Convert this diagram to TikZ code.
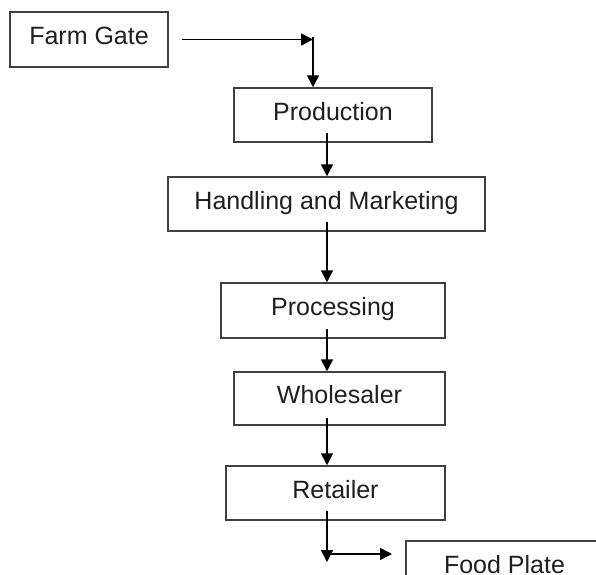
\documentclass[tikz,border=0pt]{standalone}
\usepackage{fontspec}
\setmainfont{Liberation Sans}
\usetikzlibrary{arrows.meta,calc}
\begin{document}
\begin{tikzpicture}[x=1pt,y=-1pt,
  box/.style={draw=black!75, line width=1.5pt, inner sep=0pt,
    font=\fontsize{25}{30}\selectfont, text=black!88,
    text height=18pt, text depth=8pt, anchor=center},
  arr/.style={draw=black, line width=1.6pt, -{Triangle[length=12pt,width=12pt]}}]
\useasboundingbox (0,0) rectangle (596,574);
\fill[white] (0,0) rectangle (596,574);
\clip (0,0) rectangle (596,574);

\node[box, minimum width=158pt, minimum height=55pt] (farm) at (89,39.5) {Farm Gate};
\node[box, minimum width=198pt, minimum height=54pt] (prod) at (333,115) {Production};
\node[box, minimum width=317pt, minimum height=54pt] (hand) at (326.5,204) {Handling and Marketing};
\node[box, minimum width=224pt, minimum height=55pt] (proc) at (333,310.5) {Processing};
\node[box, minimum width=211pt, minimum height=53pt] (whol) at (339.5,398.5) {Wholesaler};
\node[box, minimum width=219pt, minimum height=54pt] (ret) at (335.5,493) {Retailer};
\node[box, minimum width=197pt, minimum height=54pt] (food) at (504.5,568) {Food Plate};

\coordinate (ax) at (327,0);
\coordinate (bend) at (313,39.5);
\coordinate (down) at (327,562);
\coordinate (split) at (327,554);
\coordinate (rt) at (392,554);

\draw[arr] ($(farm.east)+(13,0)$) -- (bend);
\draw[arr] ($(bend)+(0,-3)$) -- (bend |- prod.north);
\draw[arr] ($(ax |- prod.south)+(0,-10)$) -- (ax |- hand.north);
\draw[arr] ($(ax |- hand.south)+(0,-10)$) -- (ax |- proc.north);
\draw[arr] ($(ax |- proc.south)+(0,-10)$) -- (ax |- whol.north);
\draw[arr] ($(ax |- whol.south)+(0,-8)$) -- (ax |- ret.north);
\draw[arr] ($(ax |- ret.south)+(0,-10)$) -- (down);
\draw[arr] (split) -- (rt);
\end{tikzpicture}
\end{document}
